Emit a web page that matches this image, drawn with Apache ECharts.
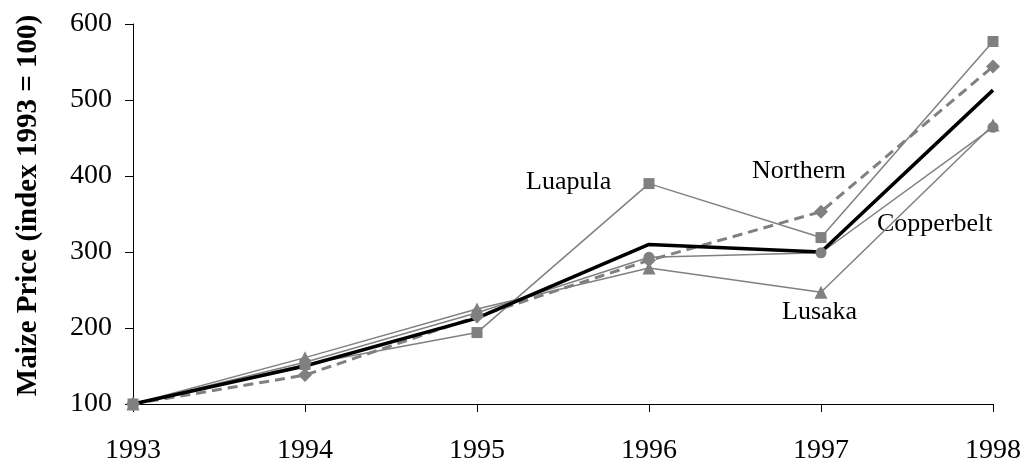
<!DOCTYPE html>
<html><head><meta charset="utf-8">
<script src="https://cdn.jsdelivr.net/npm/echarts@6/dist/echarts.min.js"></script>
<style>html,body{margin:0;padding:0;background:#fff}#c{width:1025px;height:467px}</style>
</head><body><div id="c"></div>
<script>
var years = ['1993','1994','1995','1996','1997','1998'];
var luapula = [100, 152, 194, 390, 319, 577];
var northern = [100, 138, 215, 289, 353, 544];
var lusaka = [100, 161, 225, 279, 247, 467];
var copperbelt = [100, 155, 220, 293, 299, 464];
var zambia = [100, 150, 213, 310, 300, 513];
var yTicks = [100, 200, 300, 400, 500, 600];

var FONT = '"Liberation Serif", "Times New Roman", serif';
var GRAY = '#808080';
var chart = echarts.init(document.getElementById('c'));
function gs(name, data, sym, size, extra) {
  var s = {
    name: name, type: 'line', data: data, symbol: sym, symbolSize: size,
    showAllSymbol: true,
    lineStyle: {color: GRAY, width: 1.5},
    itemStyle: {color: GRAY},
    animation: false
  };
  if (extra) for (var k in extra) s[k] = extra[k];
  return s;
}
chart.setOption({
  animation: false,
  grid: {left: 133, right: 32, top: 24, bottom: 63},
  xAxis: {
    type: 'category', data: years, boundaryGap: false,
    axisLine: {lineStyle: {color: '#000', width: 1}},
    axisTick: {show: true, length: 8, alignWithLabel: true, lineStyle: {color: '#000'}},
    axisLabel: {color: '#000', fontFamily: FONT, fontSize: 28, margin: 33},
    splitLine: {show: false}
  },
  yAxis: {
    type: 'value', min: yTicks[0], max: yTicks[yTicks.length - 1], interval: 100,
    name: 'Maize Price (index 1993 = 100)', nameLocation: 'middle', nameGap: 90,
    nameTextStyle: {color: '#000', fontFamily: FONT, fontSize: 29, fontWeight: 'bold', padding: [0, 0, 0, 17]},
    axisLine: {show: true, lineStyle: {color: '#000', width: 1}},
    axisTick: {show: true, length: 8, lineStyle: {color: '#000'}},
    axisLabel: {color: '#000', fontFamily: FONT, fontSize: 28, margin: 21},
    splitLine: {show: false}
  },
  series: [
    gs('Copperbelt', copperbelt, 'circle', 11),
    gs('Lusaka', lusaka, 'triangle', 13),
    gs('Luapula', luapula, 'rect', 11),
    gs('Northern', northern, 'diamond', 14, {lineStyle: {color: GRAY, width: 3, type: [10, 6]}}),
    {name: 'Zambia', type: 'line', data: zambia, symbol: 'none',
     lineStyle: {color: '#000', width: 3.5}, animation: false}
  ],
  graphic: [
    {type: 'text', left: 526, top: 169, style: {text: 'Luapula', font: '26px ' + FONT, fill: '#000'}},
    {type: 'text', left: 752, top: 158, style: {text: 'Northern', font: '26px ' + FONT, fill: '#000'}},
    {type: 'text', left: 877, top: 211, style: {text: 'Copperbelt', font: '26px ' + FONT, fill: '#000'}},
    {type: 'text', left: 782, top: 299, style: {text: 'Lusaka', font: '26px ' + FONT, fill: '#000'}}
  ]
});
</script></body></html>
